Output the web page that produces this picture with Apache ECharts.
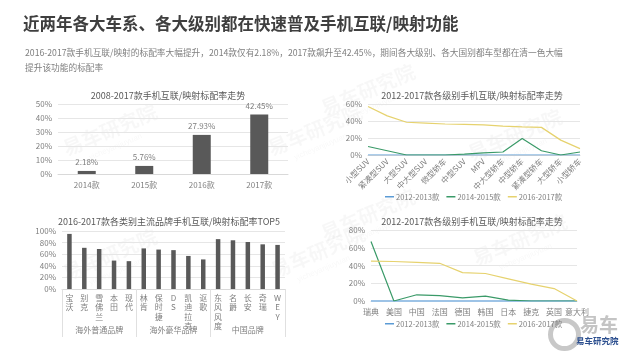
<!DOCTYPE html>
<html>
<head>
<meta charset="utf-8">
<script src="https://cdn.jsdelivr.net/npm/echarts@6/dist/echarts.min.js"></script>
<style>
  html, body { margin: 0; padding: 0; background: #fff; }
  #main { width: 630px; height: 354px; }
</style>
</head>
<body>
<div id="main"></div>
<script>
// 标配率走势（按年款）
var yearCats = ['2014款', '2015款', '2016款', '2017款'];
var yearRates = [2.18, 5.76, 27.93, 42.45];

// 各级别
var levelCats = ['小型SUV', '紧凑型SUV', '大型SUV', '中大型SUV', '微型轿车', '中型SUV', 'MPV', '中大型轿车', '中型轿车', '紧凑型轿车', '大型轿车', '小型轿车'];
var level1213 = [0, 0, 0, 0, 0, 0, 0, 0, 0, 0, 0, 0];
var level1415 = [10, 5, 0, 0, 0, 1, 2.5, 3.5, 19.5, 5, 0, 3.5];
var level1617 = [57, 46, 38.5, 37.5, 36.5, 36, 35.5, 34, 33, 32.5, 17.5, 7.5];

// 各类别品牌TOP5
var brandCats = ['宝沃', '别克', '雪佛兰', '本田', '现代', '林肯', '保时捷', 'DS', '凯迪拉克', '讴歌', '东风风度', '名爵', '长安', '奇瑞', 'WEY'];
var brandRates = [95, 71, 69, 49, 48, 70, 68, 67, 57, 51, 86, 84, 81, 77, 76];
var brandGroups = ['海外普通品牌', '海外豪华品牌', '中国品牌'];

// 各国别
var countryCats = ['瑞典', '美国', '中国', '法国', '德国', '韩国', '日本', '捷克', '英国', '意大利'];
var country1213 = [0, 0, 0, 0, 0, 0, 0, 0, 0, 0];
var country1415 = [67, 0, 7, 6, 3.5, 5.5, 1, 0, 0, 0];
var country1617 = [45, 44.5, 43.5, 42.5, 32, 31, 25, 19, 14, 0];

var legendNames = ['2012-2013款', '2014-2015款', '2016-2017款'];

var gray = '#7f7f7f';
var gridLine = '#e6e6e6';
var fontCN = 'Noto Sans CJK SC';

function pctAxis(grid, max, interval) {
    return {
        type: 'value', gridIndex: grid, min: 0, max: max, interval: interval,
        axisLine: {show: false}, axisTick: {show: false},
        axisLabel: {color: gray, fontSize: 8, formatter: '{value}%', margin: 6},
        splitLine: {lineStyle: {color: gridLine}}
    };
}

function legendAt(top) {
    return {data: legendNames, top: top, left: 380, itemWidth: 9, itemHeight: 1.5, icon: 'rect',
        itemGap: 7, textStyle: {color: gray, fontSize: 7.5, padding: [0, 0, 0, -3]}};
}

// 水印
function mark(x, y) {
    return {type: 'group', x: x, y: y, rotation: 0.4, silent: true, children: [
        {type: 'text', style: {text: '易车研究院', fill: 'rgba(0,0,0,0.03)', font: 'bold 20px "Noto Sans CJK SC"'}},
        {type: 'text', y: 24, x: 20, style: {text: 'yicheyanjiuyuan', fill: 'rgba(0,0,0,0.03)', font: '8px sans-serif'}}
    ]};
}

var chart = echarts.init(document.getElementById('main'));
chart.setOption({
    animation: false,
    textStyle: {fontFamily: fontCN},
    title: [
        {text: '近两年各大车系、各大级别都在快速普及手机互联/映射功能', left: 18, top: 10,
            textStyle: {fontSize: 16.5, fontWeight: 'bold', color: '#3f3f3f', fontFamily: fontCN}},
        {text: '2016-2017款手机互联/映射的标配率大幅提升，2014款仅有2.18%，2017款飙升至42.45%，期间各大级别、各大国别都车型都在清一色大幅\n提升该功能的标配率',
            left: 20, top: 40,
            textStyle: {fontSize: 8.7, fontWeight: 'normal', color: gray, lineHeight: 15, fontFamily: fontCN}},
        {text: '2008-2017款手机互联/映射标配率走势', left: 163, top: 86, textAlign: 'center',
            textStyle: {fontSize: 9, fontWeight: 'normal', color: '#595959'}},
        {text: '2012-2017款各级别手机互联/映射标配率走势', left: 467, top: 86, textAlign: 'center',
            textStyle: {fontSize: 9, fontWeight: 'normal', color: '#595959'}},
        {text: '2016-2017款各类别主流品牌手机互联/映射标配率TOP5', left: 164, top: 212, textAlign: 'center',
            textStyle: {fontSize: 9, fontWeight: 'normal', color: '#595959'}},
        {text: '2012-2017款各级别手机互联/映射标配率走势', left: 467, top: 212, textAlign: 'center',
            textStyle: {fontSize: 9, fontWeight: 'normal', color: '#595959'}}
    ],
    legend: [legendAt(188), legendAt(315)],
    grid: [
        {left: 58, right: 342, top: 104, bottom: 180},
        {left: 368, right: 50, top: 104, bottom: 199},
        {left: 62, right: 345, top: 231, bottom: 65},
        {left: 371, right: 53, top: 230, bottom: 53}
    ],
    xAxis: [
        {type: 'category', gridIndex: 0, data: yearCats,
            axisLine: {lineStyle: {color: '#d9d9d9'}}, axisTick: {show: false},
            axisLabel: {color: gray, fontSize: 8, margin: 7}},
        {type: 'category', gridIndex: 1, data: levelCats, boundaryGap: false,
            axisLine: {lineStyle: {color: '#d9d9d9'}}, axisTick: {show: false},
            axisLabel: {color: gray, fontSize: 8, rotate: 45, margin: 5, interval: 0}},
        {type: 'category', gridIndex: 2, data: brandCats,
            axisLine: {lineStyle: {color: '#d9d9d9'}}, axisTick: {show: false},
            axisLabel: {color: gray, fontSize: 8, margin: 4, interval: 0, lineHeight: 9.5,
                formatter: function (v) { return v.split('').join('\n'); }}},
        {type: 'category', gridIndex: 2, data: brandGroups, position: 'bottom', offset: 48,
            axisLine: {show: false},
            axisTick: {show: true, inside: true, length: 48, lineStyle: {color: '#e0e0e0'}},
            axisLabel: {color: gray, fontSize: 8, inside: true, margin: 3}},
        {type: 'category', gridIndex: 3, data: countryCats, boundaryGap: false,
            axisLine: {lineStyle: {color: '#d9d9d9'}}, axisTick: {show: false},
            axisLabel: {color: gray, fontSize: 8, margin: 7, interval: 0}}
    ],
    yAxis: [
        pctAxis(0, 50, 10),
        pctAxis(1, 60, 20),
        pctAxis(2, 100, 20),
        pctAxis(3, 80, 20)
    ],
    series: [
        {type: 'bar', xAxisIndex: 0, yAxisIndex: 0, data: yearRates, barWidth: 18,
            itemStyle: {color: '#595959'},
            label: {show: true, position: 'top', color: gray, fontSize: 8, formatter: '{c}%'}},
        {name: legendNames[0], type: 'line', xAxisIndex: 1, yAxisIndex: 1, data: level1213,
            symbol: 'none', color: '#5b9bd5', lineStyle: {width: 1.2}},
        {name: legendNames[1], type: 'line', xAxisIndex: 1, yAxisIndex: 1, data: level1415,
            symbol: 'none', color: '#3a9a68', lineStyle: {width: 1.2}},
        {name: legendNames[2], type: 'line', xAxisIndex: 1, yAxisIndex: 1, data: level1617,
            symbol: 'none', color: '#e6d26e', lineStyle: {width: 1.2}},
        {type: 'bar', xAxisIndex: 2, yAxisIndex: 2, data: brandRates, barWidth: 4.5,
            itemStyle: {color: '#595959'}},
        {name: legendNames[0], type: 'line', xAxisIndex: 4, yAxisIndex: 3, data: country1213,
            symbol: 'none', color: '#9dc3e6', lineStyle: {width: 2.2}},
        {name: legendNames[1], type: 'line', xAxisIndex: 4, yAxisIndex: 3, data: country1415,
            symbol: 'none', color: '#3a9a68', lineStyle: {width: 1.2}},
        {name: legendNames[2], type: 'line', xAxisIndex: 4, yAxisIndex: 3, data: country1617,
            symbol: 'none', color: '#e6d26e', lineStyle: {width: 1.2}}
    ],
    graphic: [
        mark(60, 140), mark(265, 140), mark(318, 100), mark(465, 145),
        mark(60, 265), mark(268, 262), mark(318, 225), mark(470, 250),
        {type: 'circle', left: 548, top: 318, shape: {r: 14}, silent: true,
            style: {fill: 'none', stroke: '#c8c8c8', lineWidth: 5}},
        {type: 'text', left: 580, top: 315, silent: true,
            style: {text: '易车', fill: '#c4c4c4', font: 'bold 19px "Noto Sans CJK SC"'}},
        {type: 'text', left: 576, top: 337, silent: true,
            style: {text: '易车研究院', fill: '#2c4f8f', font: 'bold 8.5px "Noto Sans CJK SC"'}}
    ]
});
</script>
</body>
</html>
